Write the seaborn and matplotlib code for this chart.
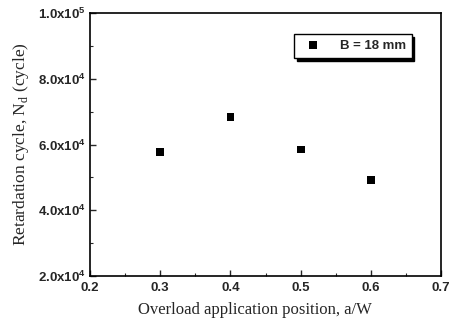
import seaborn as sns
import matplotlib.pyplot as plt
import pandas as pd
from matplotlib.ticker import MultipleLocator, FuncFormatter

# Data
position = [0.3, 0.4, 0.5, 0.6]
retardation = [5.77e4, 6.83e4, 5.85e4, 4.93e4]
series = ["B = 18 mm"] * 4

df = pd.DataFrame({"a/W": position, "Nd": retardation, "series": series})

sns.set_style("ticks")
plt.rcParams["font.family"] = ["Liberation Sans", "DejaVu Sans"]
plt.rcParams["xtick.direction"] = "in"
plt.rcParams["ytick.direction"] = "in"

fig = plt.figure(figsize=(4.51, 3.21), dpi=100)
ax = fig.add_axes([0.1996, 0.140, 0.7784, 0.8195])

sns.scatterplot(data=df, x="a/W", y="Nd", hue="series", palette=["black"],
                marker="s", s=32, edgecolor="black", linewidth=0, ax=ax)

ax.set_xlim(0.2, 0.7)
ax.set_ylim(2e4, 1e5)
ax.xaxis.set_major_locator(MultipleLocator(0.1))
ax.xaxis.set_minor_locator(MultipleLocator(0.05))
ax.yaxis.set_major_locator(MultipleLocator(2e4))
ax.yaxis.set_minor_locator(MultipleLocator(1e4))


def sci_fmt(v, pos):
    exp = int(len(str(int(v))) - 1)
    mant = v / 10 ** exp
    return r"$\mathregular{%.1fx10^{%d}}$" % (mant, exp)


ax.yaxis.set_major_formatter(FuncFormatter(sci_fmt))
ax.xaxis.set_major_formatter(FuncFormatter(lambda v, p: "%.1f" % v))
ax.tick_params(which="major", length=4, width=1, labelsize=9.5, pad=4)
ax.tick_params(axis="y", labelsize=9.5, pad=3)
ax.tick_params(which="minor", length=2, width=0.8)
for lab in ax.get_xticklabels() + ax.get_yticklabels():
    lab.set_fontweight("bold")
for sp in ax.spines.values():
    sp.set_visible(True)
    sp.set_linewidth(1.2)
    sp.set_color("black")

ax.set_xlabel("Overload application position, a/W", family="Liberation Serif",
              fontsize=12, labelpad=3)
ax.set_ylabel(r"Retardation cycle, N$_\mathregular{d}$ (cycle)", family="Liberation Serif",
              fontsize=12.5, labelpad=5)
ax.xaxis.set_label_coords(0.47, -0.1)

leg = ax.legend(loc="upper right", bbox_to_anchor=(0.935, 0.945), frameon=True,
                fancybox=False, shadow={"color": "black", "alpha": 1, "ox": 1.8, "oy": -1.8},
                edgecolor="black", prop={"size": 9.5, "weight": "bold"},
                handletextpad=1.0, borderpad=0.45, markerscale=0.9)
leg.get_frame().set_linewidth(1.0)

plt.savefig("out.png", dpi=100)
